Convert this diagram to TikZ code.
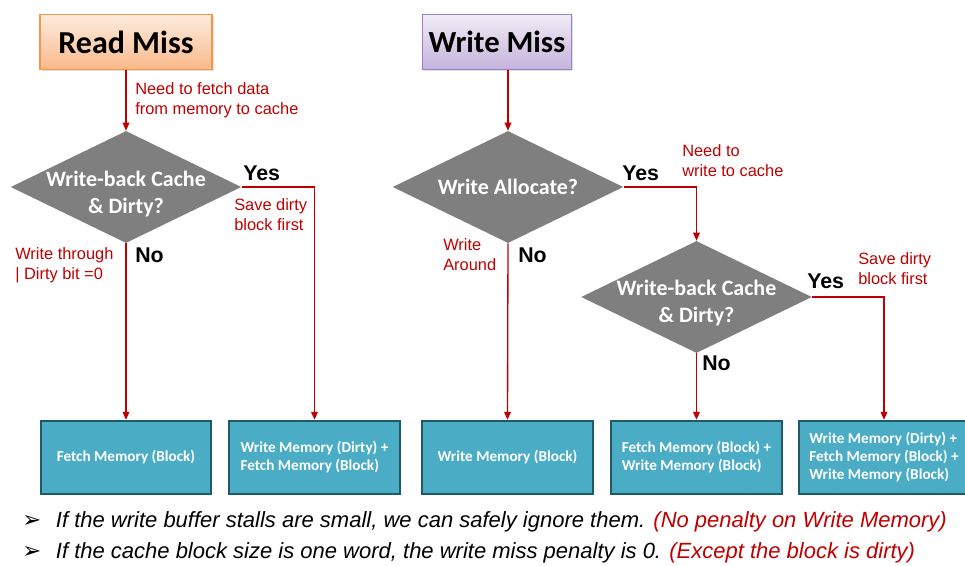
\documentclass[tikz,border=0pt]{standalone}
\usepackage{fontspec}
\setmainfont{Liberation Sans}
\newfontfamily\calib{Carlito}
\newfontfamily\dejav{DejaVu Sans}
\usetikzlibrary{shapes.geometric,arrows.meta,shadows}

\definecolor{flowred}{HTML}{C00000}
\definecolor{decgray}{HTML}{7F7F7F}
\definecolor{boxfill}{HTML}{4BACC6}
\definecolor{boxedge}{HTML}{1F5A68}
\definecolor{rmtop}{HTML}{FDECDF}
\definecolor{rmbot}{HTML}{F9B98A}
\definecolor{rmedge}{HTML}{F79646}
\definecolor{wmtop}{HTML}{F1ECF6}
\definecolor{wmbot}{HTML}{C4B3DC}
\definecolor{wmedge}{HTML}{9883BE}

\tikzset{
  title/.style={draw, line width=0.9pt, minimum width=129pt, minimum height=41pt,
    font=\calib\bfseries\fontsize{24}{28}\selectfont, text=black,
    drop shadow={shadow xshift=1.2pt, shadow yshift=-1.2pt, opacity=0.25}},
  decision/.style={diamond, fill=decgray, draw=none, inner sep=0pt,
    minimum width=173pt, minimum height=84pt},
  dectext/.style={font=\calib\bfseries\fontsize{16.5}{20}\selectfont, text=white, align=center},
  membox/.style={draw=boxedge, line width=1.5pt, fill=boxfill, minimum width=128pt,
    minimum height=55pt, text=white, align=left,
    font=\calib\bfseries\fontsize{11.4}{13.5}\selectfont},
  note/.style={text=flowred, font=\fontsize{12.3}{15}\selectfont, align=left, inner sep=0pt},
  answer/.style={font=\bfseries\fontsize{16}{18}\selectfont, inner sep=0pt},
  flow/.style={draw=flowred, line width=1pt, -{Triangle[length=6pt,width=5pt]}},
  bullet/.style={anchor=west, inner sep=0pt, font=\itshape\fontsize{16.5}{19}\selectfont}
}
\newcommand{\arrowbullet}{{\dejav\bfseries\upshape\fontsize{17}{19}\selectfont ➢}}

\begin{document}
\begin{tikzpicture}[x=0.75pt,y=-0.75pt]
  \useasboundingbox (0,0) rectangle (965,565);

  % top-level cases
  \node[title, top color=rmtop, bottom color=rmbot, draw=rmedge] (rm) at (126,42) {Read Miss};
  \node[title, top color=wmtop, bottom color=wmbot, draw=wmedge, minimum width=112pt,
        font=\calib\bfseries\fontsize{23}{27}\selectfont] (wm) at (497,42) {Write Miss};

  % decisions
  \node[decision] (d1) at (126,187) {};
  \node[dectext] (d1t) at (126,194) {Write-back Cache\\\& Dirty?};
  \node[decision] (d2) at (508,187) {};
  \node[dectext] (d2t) at (d2) {Write Allocate?};
  \node[decision] (d3) at (696.5,297) {};
  \node[dectext] (d3t) at (696.5,303) {Write-back Cache\\\& Dirty?};

  % memory actions
  \node[membox] (b1) at (126,457.5) {Fetch Memory (Block)};
  \node[membox] (b2) at (314.5,457.5) {Write Memory (Dirty) +\\Fetch Memory (Block)};
  \node[membox] (b3) at (507.5,457.5) {Write Memory (Block)};
  \node[membox] (b4) at (696.5,457.5) {Fetch Memory (Block) +\\Write Memory (Block)};
  \node[membox] (b5) at (884,457.5) {Write Memory (Dirty) +\\Fetch Memory (Block) +\\Write Memory (Block)};

  % connectors
  \draw[flow] (rm.south) -- (d1.north);
  \draw[flow] (d1.east) -| (b2.north);
  \draw[flow] (d1.south) -- (b1.north);
  \draw[flow] (wm.south -| d2.north) -- (d2.north);
  \draw[flow] (d2.east) -| (d3.north);
  \draw[flow] (d2.south) -- (b3.north);
  \draw[flow] (d3.east) -| (b5.north);
  \draw[flow] (d3.south) -- (b4.north);

  % branch answers
  \node[answer, anchor=west] (y1) at (243,173) {Yes};
  \node[answer, anchor=west] (n1) at (135,255) {No};
  \node[answer, anchor=west] (y2) at (622,173) {Yes};
  \node[answer, anchor=west] (n2) at (518,255) {No};
  \node[answer, anchor=west] (y3) at (807,281) {Yes};
  \node[answer, anchor=west] (n3) at (702,363) {No};

  % explanations
  \node[note, anchor=west] (c1) at (135,100) {Need to fetch data\\from memory to cache};
  \node[note, anchor=west] (c2) at (234,215) {Save dirty\\block first};
  \node[note, anchor=west] (c3) at (15,265) {Write through\\| Dirty bit =0};
  \node[note, anchor=west] (c4) at (682,161) {Need to\\write to cache};
  \node[note, anchor=west] (c5) at (443,255) {Write\\Around};
  \node[note, anchor=west] (c6) at (858,269) {Save dirty\\block first};

  % remarks
  \node[bullet] (k1) at (22,522) {\arrowbullet\hspace{11pt}If the write buffer stalls are small, we can safely ignore them. \textcolor{flowred}{(No penalty on Write Memory)}};
  \node[bullet] (k2) at (22,553) {\arrowbullet\hspace{11pt}If the cache block size is one word, the write miss penalty is 0. \textcolor{flowred}{(Except the block is dirty)}};
\end{tikzpicture}
\end{document}
